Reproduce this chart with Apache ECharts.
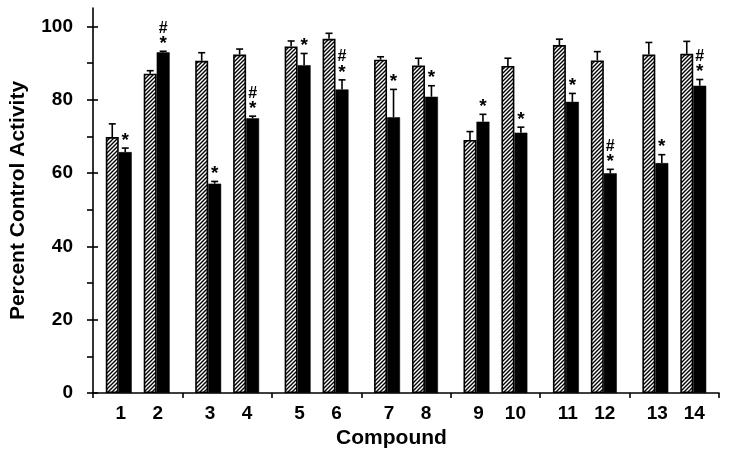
<!DOCTYPE html>
<html>
<head>
<meta charset="utf-8">
<script src="https://cdn.jsdelivr.net/npm/echarts@6/dist/echarts.min.js"></script>
<style>html,body{margin:0;padding:0;background:#fff}#c{width:729px;height:458px}</style>
</head>
<body>
<div id="c"></div>
<script>
const compounds = ['1','2','3','4','5','6','7','8','9','10','11','12','13','14'];
const controlMean = [69.8, 87.1, 90.6, 92.3, 94.5, 96.6, 90.9, 89.3, 69.0, 89.2, 94.9, 90.7, 92.3, 92.5];
const controlErr  = [3.6, 0.8, 2.2, 1.5, 1.5, 1.5, 0.8, 2.0, 2.3, 2.1, 1.6, 2.4, 3.3, 3.4];
const treatedMean = [65.7, 92.9, 57.1, 74.9, 89.4, 82.8, 75.2, 80.8, 74.0, 71.0, 79.4, 59.9, 62.7, 83.8];
const treatedErr  = [1.1, 0.3, 0.6, 0.6, 3.2, 2.6, 7.6, 3.0, 2.0, 1.5, 2.3, 1.1, 2.3, 1.7];
const treatedMarks = ['*','#*','*','#*','*','#*','*','*','*','*','*','#*','*','#*'];
const yMajorTicks = [0, 20, 40, 60, 80, 100];
const yMinorTicks = [0, 10, 20, 30, 40, 50, 60, 70, 80, 90, 100];

const FONT = 'Liberation Sans, Arial, sans-serif';
const nG = compounds.length / 2;
const groups = [];
for (let g = 0; g < nG; g++) groups.push(compounds[2*g] + '|' + compounds[2*g+1]);
const pick = (arr, p) => arr.filter((_, i) => i % 2 === p);

// hatch pattern
const pc = document.createElement('canvas');
pc.width = 4; pc.height = 4;
const ctx = pc.getContext('2d');
ctx.fillStyle = '#fff'; ctx.fillRect(0,0,4,4);
ctx.strokeStyle = '#000'; ctx.lineWidth = 1.4;
ctx.beginPath();
ctx.moveTo(-1,5); ctx.lineTo(5,-1);
ctx.moveTo(-1,1); ctx.lineTo(1,-1);
ctx.moveTo(3,5); ctx.lineTo(5,3);
ctx.stroke();
const hatch = {image: pc, repeat: 'repeat'};

const BW = 13/89.6, SP = 12/89.6;
const pct = v => (v*100).toFixed(3) + '%';
const slotOffsets = [-(1.5*BW + SP/2), -(0.5*BW + SP/2), (SP/2 + 0.5*BW), (SP/2 + 1.5*BW)];

function barSeries(vals, isHatch) {
  return {
    type: 'bar', data: vals, barWidth: pct(BW), barGap: '0%',
    itemStyle: isHatch ? {color: hatch, borderColor: '#000', borderWidth: 1.6} : {color: '#000', borderColor: '#000', borderWidth: 0.5},
    z: 2, silent: true
  };
}
function errSeries(vals, errs, marks, slot) {
  return {
    type: 'custom', z: 5, clip: false, silent: true,
    data: vals.map((v, g) => [g, v, errs[g]]),
    encode: {x: 0, y: 1},
    renderItem: function (params, api) {
      const g = api.value(0), v = api.value(1), e = api.value(2);
      const catW = api.size([1, 0])[0];
      const b = api.coord([g, v]);
      const x = b[0] + slotOffsets[slot] * catW;
      const yt = api.coord([g, v + e])[1];
      const st = {stroke: '#000', lineWidth: 1.6};
      const ch = [
        {type: 'line', shape: {x1: x, y1: b[1], x2: x, y2: yt}, style: st},
        {type: 'line', shape: {x1: x - 3.5, y1: yt, x2: x + 3.5, y2: yt}, style: st}
      ];
      const m = marks ? marks[params.dataIndex] : '';
      if (m.indexOf('*') >= 0) ch.push({type: 'text', style: {text: '*', x: x, y: yt + 2, align: 'center', verticalAlign: 'bottom', font: 'bold 19px ' + FONT, fill: '#000'}});
      if (m.indexOf('#') >= 0) ch.push({type: 'text', style: {text: '#', x: x, y: yt - 15, align: 'center', verticalAlign: 'bottom', font: 'bold 16px ' + FONT, fill: '#000'}});
      return {type: 'group', children: ch};
    }
  };
}

const axisLineStyle = {color: '#000', width: 1.6};
const option = {
  animation: false,
  backgroundColor: '#fff',
  grid: {left: 92, right: 10, top: 8, bottom: 65, containLabel: false},
  xAxis: {
    type: 'category', data: groups,
    axisLine: {show: true, lineStyle: axisLineStyle},
    axisTick: {show: true, length: 5, lineStyle: axisLineStyle},
    axisLabel: {
      margin: 11, interval: 0,
      formatter: v => '{a|' + v.split('|')[0] + '}{b|' + v.split('|')[1] + '}',
      rich: {
        a: {width: 40, align: 'center', fontSize: 19, fontWeight: 'bold', fontFamily: FONT, color: '#000'},
        b: {width: 34, align: 'center', fontSize: 19, fontWeight: 'bold', fontFamily: FONT, color: '#000'}
      }
    },
    name: 'Compound', nameLocation: 'middle', nameGap: 29,
    nameTextStyle: {fontSize: 21, fontWeight: 'bold', fontFamily: FONT, color: '#000', padding: [0, 29, 0, 0]}
  },
  yAxis: [{
    type: 'value', min: 0, max: 105,
    axisLine: {show: true, lineStyle: axisLineStyle},
    axisTick: {show: true, length: 6, customValues: yMinorTicks, lineStyle: axisLineStyle},
    axisLabel: {customValues: yMajorTicks, margin: 20, fontSize: 19, fontWeight: 'bold', fontFamily: FONT, color: '#000'},
    splitLine: {show: false},
    name: 'Percent Control Activity', nameLocation: 'middle', nameGap: 64, nameRotate: 90,
    nameTextStyle: {fontSize: 21, fontWeight: 'bold', fontFamily: FONT, color: '#000'}
  }, {
    type: 'value', min: 0, max: 105, position: 'left', offset: 0,
    axisLine: {show: false},
    axisTick: {show: true, inside: true, length: 5, customValues: yMajorTicks, lineStyle: axisLineStyle},
    axisLabel: {show: false}, splitLine: {show: false}
  }],
  series: [
    barSeries(pick(controlMean, 0), true),
    barSeries(pick(treatedMean, 0), false),
    {type: 'bar', data: new Array(nG).fill('-'), barWidth: pct(SP), barGap: '0%', silent: true},
    barSeries(pick(controlMean, 1), true),
    barSeries(pick(treatedMean, 1), false),
    errSeries(pick(controlMean, 0), pick(controlErr, 0), null, 0),
    errSeries(pick(treatedMean, 0), pick(treatedErr, 0), pick(treatedMarks, 0), 1),
    errSeries(pick(controlMean, 1), pick(controlErr, 1), null, 2),
    errSeries(pick(treatedMean, 1), pick(treatedErr, 1), pick(treatedMarks, 1), 3)
  ]
};
echarts.init(document.getElementById('c')).setOption(option);
</script>
</body>
</html>
